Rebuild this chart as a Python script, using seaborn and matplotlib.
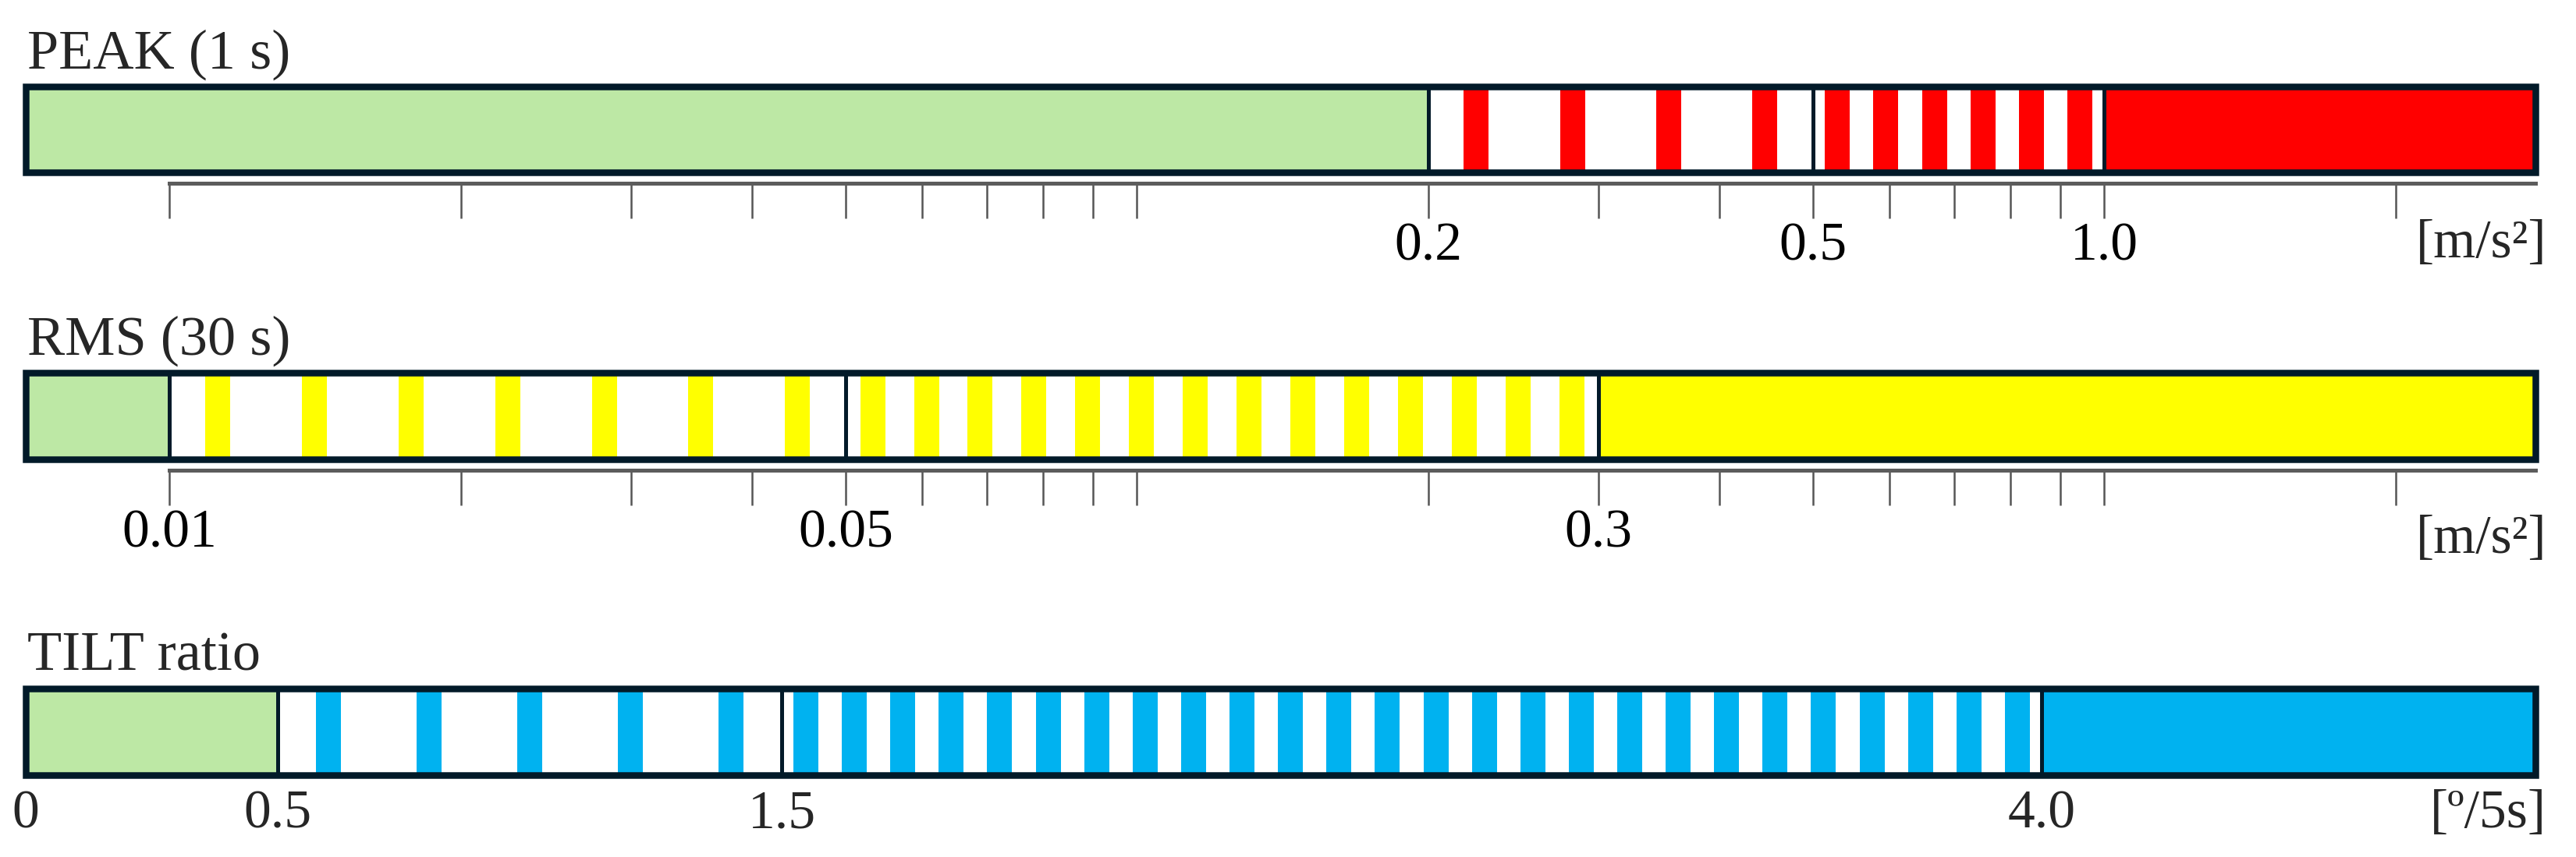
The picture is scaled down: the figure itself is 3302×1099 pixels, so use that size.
import matplotlib
matplotlib.use("Agg")
import numpy as np
import matplotlib.pyplot as plt
from matplotlib.ticker import FixedLocator, FixedFormatter, NullLocator
import seaborn as sns

# ---- data -------------------------------------------------------------
titles = ["PEAK (1 s)", "RMS (30 s)", "TILT ratio"]
units = ["[m/s²]", "[m/s²]", "[º/5s]"]

# full extent of each bar
peak_range = (0.0071, 2.79)
rms_range = (0.0071, 2.79)
tilt_range = (0.0, 4.98)

# zone limits: green | striped | striped | solid
peak_limits = [0.2, 0.5, 1.0]
rms_limits = [0.01, 0.05, 0.3]
tilt_limits = [0.5, 1.5, 4.0]

# number of stripes in the two striped zones
peak_stripes = [4, 6]
rms_stripes = [7, 14]
tilt_stripes = [5, 26]

# ruler graduation for the log rows
ruler_ticks = [0.01, 0.02, 0.03, 0.04, 0.05, 0.06, 0.07, 0.08, 0.09,
               0.1, 0.2, 0.3, 0.4, 0.5, 0.6, 0.7, 0.8, 0.9, 1.0, 2.0]
peak_labels = {0.2: "0.2", 0.5: "0.5", 1.0: "1.0"}
rms_labels = {0.01: "0.01", 0.05: "0.05", 0.3: "0.3"}
tilt_ticks = [0, 0.5, 1.5, 4.0]
tilt_labels = ["0", "0.5", "1.5", "4.0"]

# ---- style ------------------------------------------------------------
W, H, DPI = 3302, 1099, 100
GREEN = "#bde8a5"
NAVY = "#021a29"
RED = "#ff0000"
YELLOW = "#ffff00"
BLUE = "#00b2f0"
STRIPE_PX = 32


def pt(px):
    return px * 72.0 / DPI


sns.set_style("white")
plt.rcParams["font.family"] = ["Liberation Serif", "DejaVu Serif"]

fig = plt.figure(figsize=(W / DPI, H / DPI), dpi=DPI)

AX_LEFT, AX_RIGHT = 33, 3250
AX_W = AX_RIGHT - AX_LEFT


def make_axes(top, bottom):
    return fig.add_axes([AX_LEFT / W, 1 - bottom / H, AX_W / W, (bottom - top) / H])


def draw_bar(ax, rng, limits, n_stripes, color, log):
    if log:
        ax.set_xscale("log")
    ax.set_xlim(rng)
    ax.set_ylim(0, 1)
    bounds = [rng[0]] + limits + [rng[1]]

    # solid zones
    ax.barh(0.5, bounds[1] - bounds[0], left=bounds[0], height=1, color=GREEN, lw=0, zorder=1)
    ax.barh(0.5, bounds[4] - bounds[3], left=bounds[3], height=1, color=color, lw=0, zorder=1)

    # striped zones, evenly spaced on screen
    fwd = ax.xaxis.get_transform()
    inv = fwd.inverted()
    s_lo, s_hi = fwd.transform(np.reshape(rng, (-1, 1))).ravel()
    hw = STRIPE_PX / 2 * (s_hi - s_lo) / AX_W
    for (a, b), n in zip([(bounds[1], bounds[2]), (bounds[2], bounds[3])], n_stripes):
        sa, sb = fwd.transform(np.reshape([a, b], (-1, 1))).ravel()
        step = (sb - sa) / n
        for i in range(n):
            c = sa + (i + 0.5) * step
            x0, x1 = inv.transform(np.reshape([c - hw, c + hw], (-1, 1))).ravel()
            ax.barh(0.5, x1 - x0, left=x0, height=1, color=color, lw=0, zorder=2)

    # zone dividers
    for b in limits:
        ax.plot([b, b], [0, 1], color=NAVY, lw=pt(5), solid_capstyle="butt", zorder=3)

    # outer frame
    ax.barh(0.5, rng[1] - rng[0], left=rng[0], height=1, fill=False,
            edgecolor=NAVY, lw=pt(8.5), clip_on=False, zorder=5)

    ax.set_yticks([])
    for s in ["top", "left", "right", "bottom"]:
        ax.spines[s].set_visible(False)


def add_ruler(ax, rng, labels):
    sp = ax.spines["bottom"]
    sp.set_visible(True)
    sp.set_position(("outward", pt(14)))
    sp.set_bounds(0.01, rng[1])
    sp.set_linewidth(pt(5))
    sp.set_color("#5c5c5c")
    ax.xaxis.set_major_locator(FixedLocator(ruler_ticks))
    ax.xaxis.set_major_formatter(FixedFormatter([labels.get(t, "") for t in ruler_ticks]))
    ax.xaxis.set_minor_locator(NullLocator())
    ax.tick_params(axis="x", which="major", bottom=True, direction="out",
                   length=pt(45), width=pt(2.5), color="#555555",
                   pad=pt(5), labelsize=50, labelcolor="black")


def add_texts(ax, title, unit, unit_dy):
    ax.annotate(title, xy=(0, 1), xycoords="axes fraction",
                xytext=(pt(2), pt(23)), textcoords="offset points",
                ha="left", va="baseline", fontsize=52)
    ax.annotate(unit, xy=(1, 0), xycoords="axes fraction",
                xytext=(pt(14), -pt(unit_dy)), textcoords="offset points",
                ha="right", va="center", fontsize=50)


# PEAK
ax1 = make_axes(111, 221)
draw_bar(ax1, peak_range, peak_limits, peak_stripes, RED, log=True)
add_ruler(ax1, peak_range, peak_labels)
add_texts(ax1, titles[0], units[0], 92)

# RMS
ax2 = make_axes(478, 589)
draw_bar(ax2, rms_range, rms_limits, rms_stripes, YELLOW, log=True)
add_ruler(ax2, rms_range, rms_labels)
add_texts(ax2, titles[1], units[1], 103)

# TILT
ax3 = make_axes(883, 994)
draw_bar(ax3, tilt_range, tilt_limits, tilt_stripes, BLUE, log=False)
ax3.set_xticks(tilt_ticks, tilt_labels)
ax3.tick_params(axis="x", bottom=False, length=0, pad=pt(19), labelsize=50)
add_texts(ax3, titles[2], units[2], 50)

fig.savefig("out.png", dpi=DPI)
plt.close(fig)
